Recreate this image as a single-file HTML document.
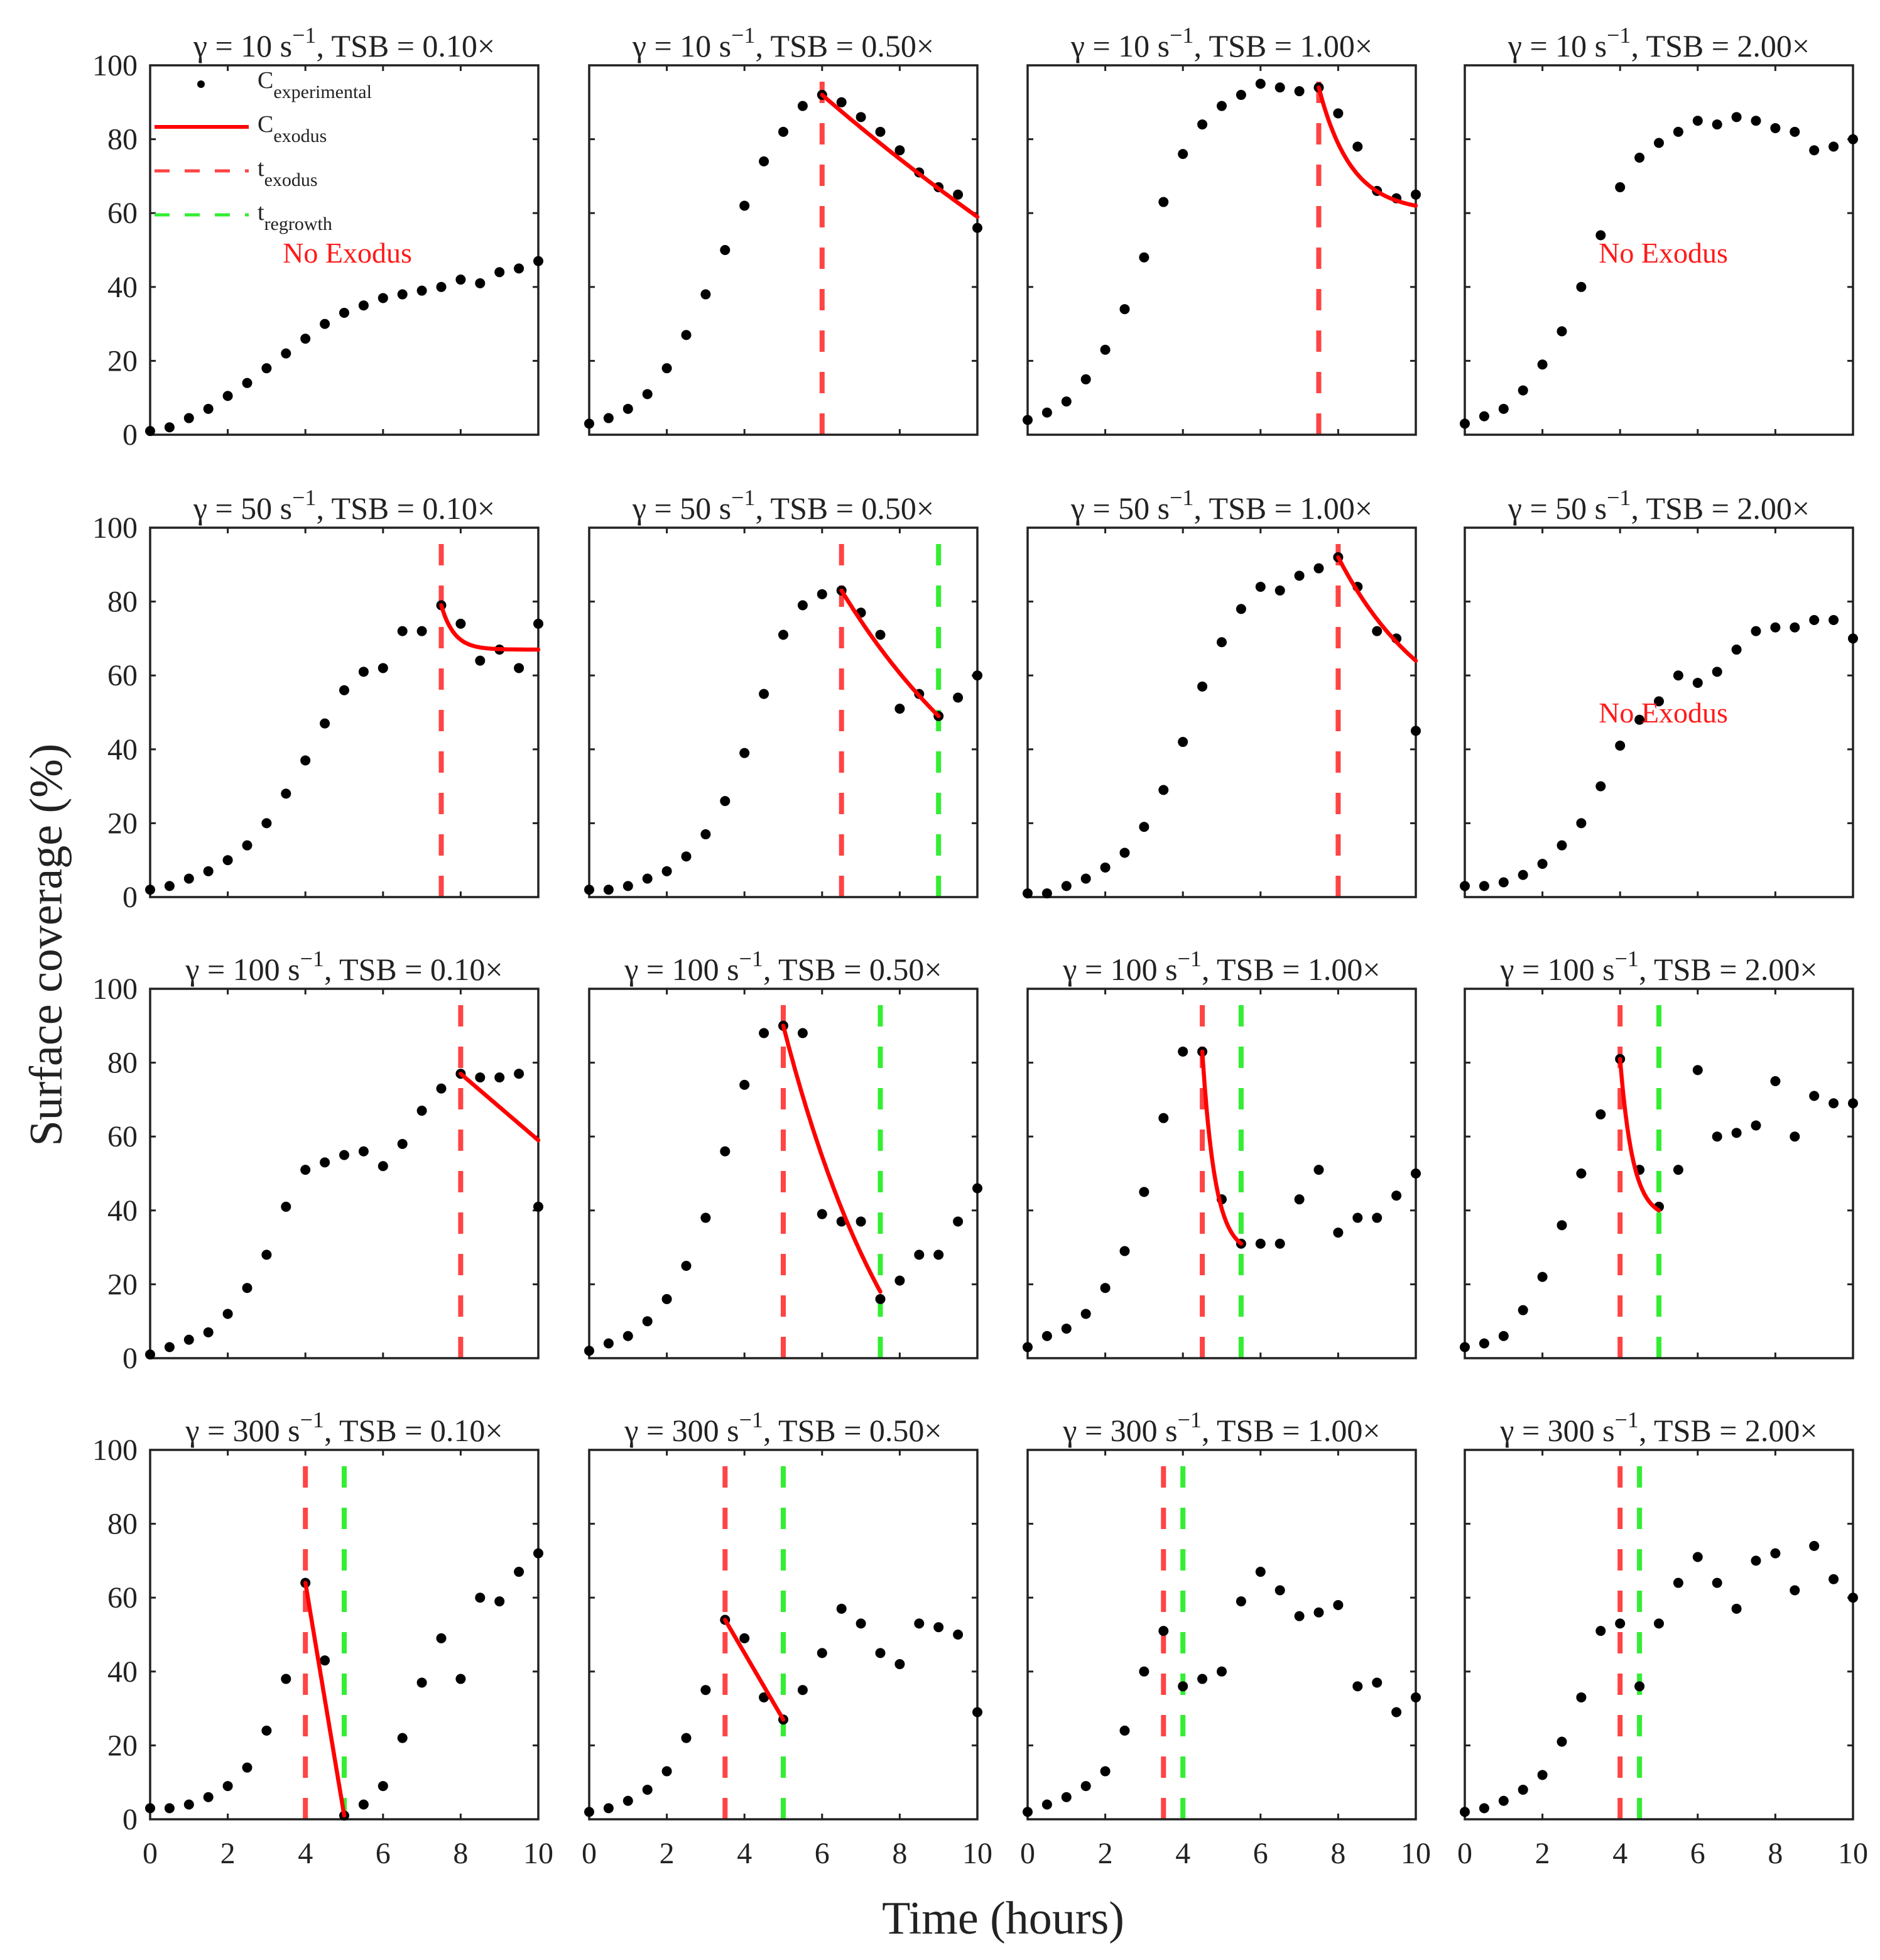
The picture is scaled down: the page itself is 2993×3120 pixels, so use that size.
<!DOCTYPE html>
<html><head><meta charset="utf-8"><style>
html,body{margin:0;padding:0;background:#fff;}
svg{display:block;font-family:"Liberation Serif",serif;}
</style></head><body>
<svg id="fig" width="2993" height="3120" viewBox="0 0 2993 3120" xmlns="http://www.w3.org/2000/svg">
<rect width="2993" height="3120" fill="#fff"/>
<text x="0" y="0" transform="translate(98,1504) rotate(-90)" text-anchor="middle" font-size="74" fill="#222">Surface coverage (%)</text>
<text x="1597" y="3078" text-anchor="middle" font-size="74" fill="#222">Time (hours)</text>
</svg>
<script>
const times = [0,0.5,1,1.5,2,2.5,3,3.5,4,4.5,5,5.5,6,6.5,7,7.5,8,8.5,9,9.5,10];
const shearRates = [10,50,100,300];
const tsbLabels = ["0.10","0.50","1.00","2.00"];
const xTicks = [0,2,4,6,8,10];
const yTicks = [0,20,40,60,80,100];
const cov_10_010 = [1,2,4.5,7,10.5,14,18,22,26,30,33,35,37,38,39,40,42,41,44,45,47];
const cov_10_050 = [3,4.5,7,11,18,27,38,50,62,74,82,89,92,90,86,82,77,71,67,65,56];
const cov_10_100 = [4,6,9,15,23,34,48,63,76,84,89,92,95,94,93,94,87,78,66,64,65];
const cov_10_200 = [3,5,7,12,19,28,40,54,67,75,79,82,85,84,86,85,83,82,77,78,80];
const cov_50_010 = [2,3,5,7,10,14,20,28,37,47,56,61,62,72,72,79,74,64,67,62,74];
const cov_50_050 = [2,2,3,5,7,11,17,26,39,55,71,79,82,83,77,71,51,55,49,54,60];
const cov_50_100 = [1,1,3,5,8,12,19,29,42,57,69,78,84,83,87,89,92,84,72,70,45];
const cov_50_200 = [3,3,4,6,9,14,20,30,41,48,53,60,58,61,67,72,73,73,75,75,70];
const cov_100_010 = [1,3,5,7,12,19,28,41,51,53,55,56,52,58,67,73,77,76,76,77,41];
const cov_100_050 = [2,4,6,10,16,25,38,56,74,88,90,88,39,37,37,16,21,28,28,37,46];
const cov_100_100 = [3,6,8,12,19,29,45,65,83,83,43,31,31,31,43,51,34,38,38,44,50];
const cov_100_200 = [3,4,6,13,22,36,50,66,81,51,41,51,78,60,61,63,75,60,71,69,69];
const cov_300_010 = [3,3,4,6,9,14,24,38,64,43,1,4,9,22,37,49,38,60,59,67,72];
const cov_300_050 = [2,3,5,8,13,22,35,54,49,33,27,35,45,57,53,45,42,53,52,50,29];
const cov_300_100 = [2,4,6,9,13,24,40,51,36,38,40,59,67,62,55,56,58,36,37,29,33];
const cov_300_200 = [2,3,5,8,12,21,33,51,53,36,53,64,71,64,57,70,72,62,74,65,60];
const coverage = [cov_10_010,cov_10_050,cov_10_100,cov_10_200,cov_50_010,cov_50_050,cov_50_100,cov_50_200,cov_100_010,cov_100_050,cov_100_100,cov_100_200,cov_300_010,cov_300_050,cov_300_100,cov_300_200];
const tExodus   = [null,6,7.5,null, 7.5,6.5,8,null, 8,5,4.5,4, 4,3.5,3.5,4];
const tRegrowth = [null,null,null,null, null,9,null,null, null,7.5,5.5,5, 5,5,4,4.5];
const exodusC0   = [null,92,94,null, 79,83,92,null, 77,90,83,81, 64,54,null,null];
const exodusCend = [null,59,62,null, 67,49,64,null, 59,18,31,40, 1,27,null,null];
const exodusTend = [null,10,10,null, 10,9,10,null, 10,7.5,5.5,5, 5,5,null,null];
const exodusK    = [null,0.05,1.2,null, 3,0.2,0.4,null, 0,0.3,3,3, 0,0,null,null];

const NS="http://www.w3.org/2000/svg";
const svg=document.getElementById('fig');
const colLeft=[239,938,1636,2332], rowTop=[104,840,1574,2308], PW=618, PH=588;
function mk(tag,attrs,parent){const e=document.createElementNS(NS,tag);for(const k in attrs)e.setAttribute(k,attrs[k]);(parent||svg).appendChild(e);return e;}

for(let i=0;i<16;i++){
  const r=Math.floor(i/4), c=i%4;
  const L=colLeft[c], T=rowTop[r];
  const xs=t=>L+t/10*PW, ys=v=>T+PH-v/100*PH;
  const g=mk('g',{});
  
  
  const tt=mk('text',{x:L+PW/2,y:T-14,'text-anchor':'middle','font-size':50,fill:'#222'},g);
  
  
  tt.innerHTML='γ = '+shearRates[r]+' s<tspan dy="-22" font-size="36">−1</tspan><tspan dy="22">, TSB = '+tsbLabels[c]+'×</tspan>';
  xTicks.forEach(v=>{
    mk('line',{x1:xs(v),x2:xs(v),y1:T+PH,y2:T+PH-9,stroke:'#222','stroke-width':3},g);
    mk('line',{x1:xs(v),x2:xs(v),y1:T,y2:T+9,stroke:'#222','stroke-width':3},g);
    if(r===3){const tl=mk('text',{x:xs(v),y:T+PH+70,'text-anchor':'middle','font-size':48,fill:'#222'},g);tl.textContent=v;
      
      }
  });
  yTicks.forEach(v=>{
    mk('line',{x1:L,x2:L+9,y1:ys(v),y2:ys(v),stroke:'#222','stroke-width':3},g);
    mk('line',{x1:L+PW,x2:L+PW-9,y1:ys(v),y2:ys(v),stroke:'#222','stroke-width':3},g);
    if(c===0){const tl=mk('text',{x:L-20,y:ys(v)+16,'text-anchor':'end','font-size':48,fill:'#222'},g);tl.textContent=v;
      
      }
  });
  if(tExodus[i]!==null){const l=mk('line',{x1:xs(tExodus[i]),x2:xs(tExodus[i]),y1:T+PH,y2:T,stroke:'#ff4444','stroke-width':8,'stroke-dasharray':'34 32'},g);
    
    }
  if(tRegrowth[i]!==null){const l=mk('line',{x1:xs(tRegrowth[i]),x2:xs(tRegrowth[i]),y1:T+PH,y2:T,stroke:'#33ee33','stroke-width':8,'stroke-dasharray':'34 32'},g);
    
    }
  const fr=mk('rect',{x:L,y:T,width:PW,height:PH,fill:'none',stroke:'#222','stroke-width':3.5},g);
  
  
  coverage[i].forEach((v,j)=>{
    const d=mk('circle',{cx:xs(times[j]),cy:ys(v),r:8,fill:'#000'},g);
    
    
  });
  if(exodusC0[i]!==null){
    const t0=tExodus[i], S=exodusTend[i]-t0, k=exodusK[i], C0=exodusC0[i], Ce=exodusCend[i];
    let pts=[];
    for(let n=0;n<=60;n++){
      const s=S*n/60;
      const f=k===0? s/S : (1-Math.exp(-k*s))/(1-Math.exp(-k*S));
      pts.push(xs(t0+s).toFixed(1)+','+ys(C0+(Ce-C0)*f).toFixed(1));
    }
    const p=mk('polyline',{points:pts.join(' '),fill:'none',stroke:'#ff0000','stroke-width':6.5,'stroke-linecap':'round'},g);
    
    
  }
}
[[553,418],[2648,418],[2648,1150]].forEach(p=>{
  const ne=mk('text',{x:p[0],y:p[1],'text-anchor':'middle','font-size':46,fill:'#ff1a1a'});
  ne.textContent='No Exodus';
  
  
});
const lg=mk('g',{});


mk('circle',{cx:320,cy:134,r:6,fill:'#000'},lg);
mk('line',{x1:246,x2:396,y1:202,y2:202,stroke:'#ff0000','stroke-width':6},lg);
mk('line',{x1:246,x2:396,y1:272,y2:272,stroke:'#ff4444','stroke-width':5,'stroke-dasharray':'24 24'},lg);
mk('line',{x1:246,x2:396,y1:342,y2:342,stroke:'#33ee33','stroke-width':5,'stroke-dasharray':'24 24'},lg);
const legTexts=[['C','experimental',140],['C','exodus',210],['t','exodus',280],['t','regrowth',350]];
legTexts.forEach(a=>{
  const t=mk('text',{x:410,y:a[2],'font-size':38,fill:'#222'},lg);
  t.innerHTML=a[0]+'<tspan dy="16" font-size="30">'+a[1]+'</tspan>';
  
  
});
</script>
</body></html>
